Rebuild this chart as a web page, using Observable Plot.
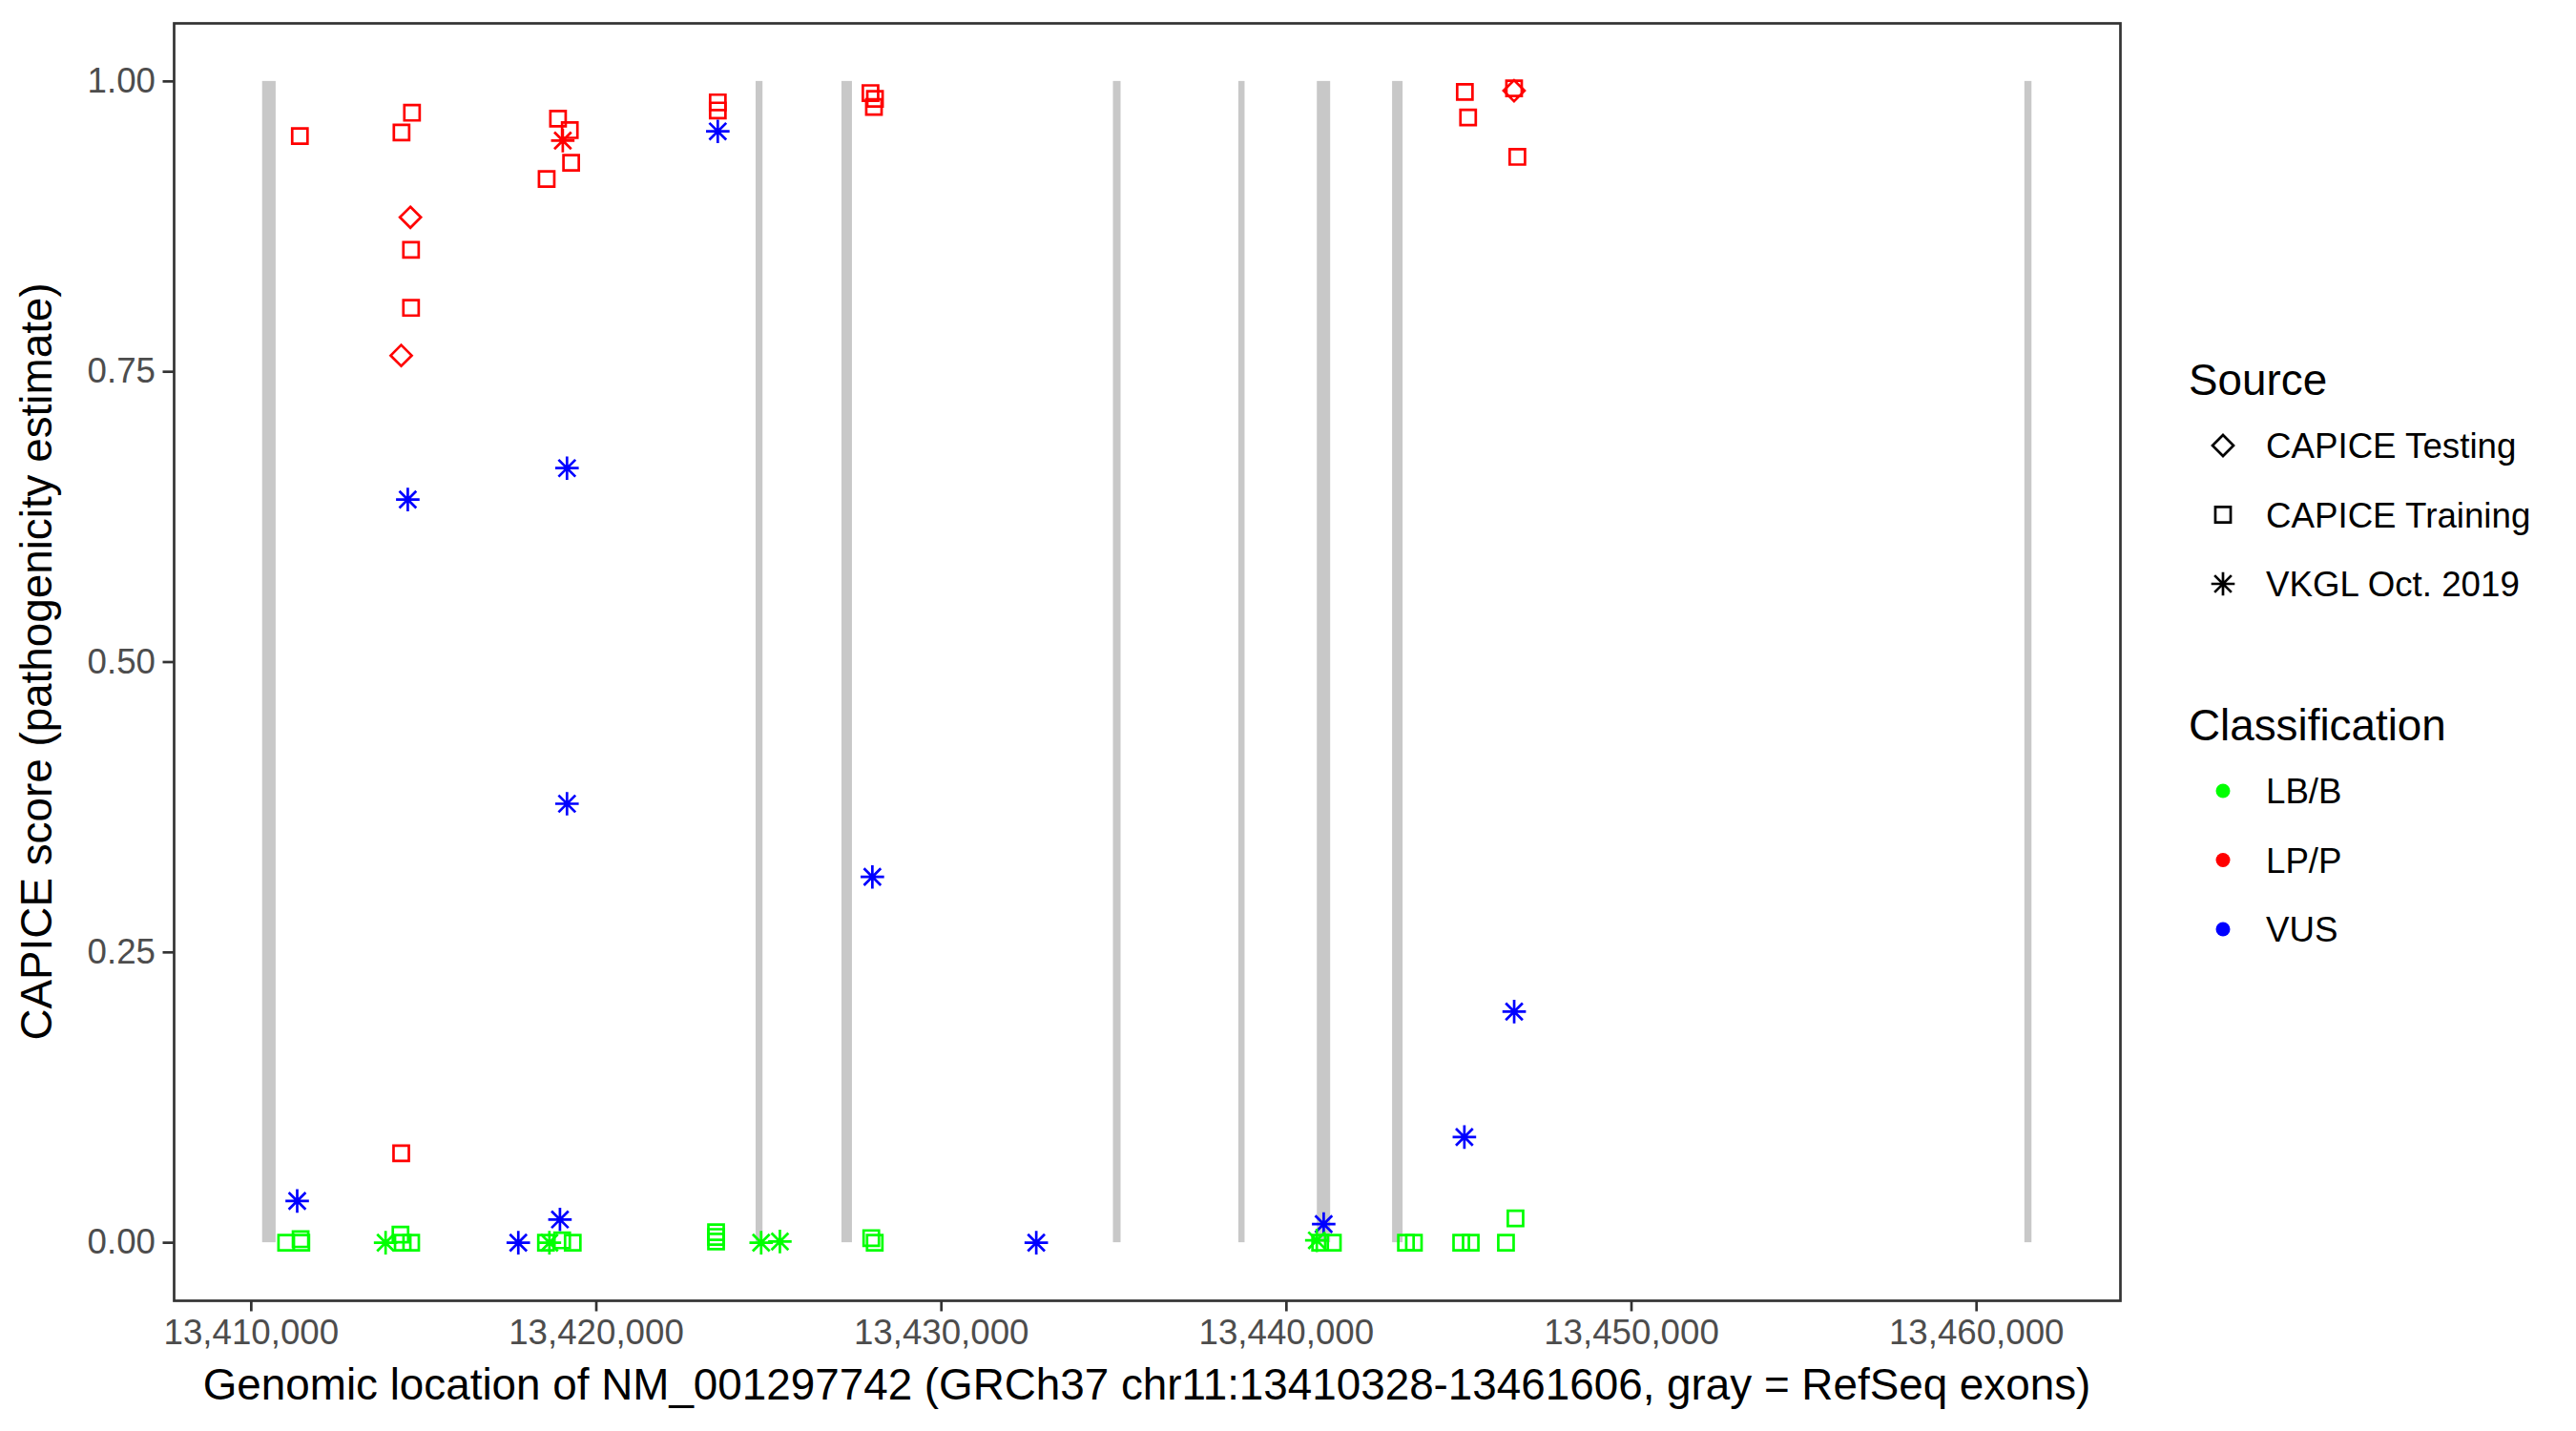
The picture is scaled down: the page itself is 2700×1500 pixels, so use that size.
<!DOCTYPE html>
<html><head><meta charset="utf-8">
<script src="https://cdn.jsdelivr.net/npm/d3@7"></script>
<script src="https://cdn.jsdelivr.net/npm/@observablehq/plot@0.6"></script>
<style>
html,body{margin:0;padding:0;background:#fff;}
#chart{position:relative;width:2700px;height:1500px;}
svg{font-family:"Liberation Sans", Arial, Helvetica, sans-serif;}
g[aria-label="x-axis tick label"], g[aria-label="y-axis tick label"]{fill:#4d4d4d;}
</style></head><body><div id="chart"></div><script>
// ---- data ----
const exonStart = [13410328, 13424630, 13427118, 13434986, 13438620, 13440895, 13443076, 13461400];
const exonEnd   = [13410720, 13424830, 13427422, 13435207, 13438800, 13441281, 13443380, 13461606];

const varPos = [
  // LP/P CAPICE Training
  13411408, 13414658, 13414354, 13414630, 13414630, 13414345, 13418890, 13419230, 13419270, 13418560,
  13423520, 13423520, 13427946, 13428075, 13428045, 13445170, 13445265, 13446597, 13446692,
  // LP/P CAPICE Testing
  13414611, 13414345, 13446597,
  // LP/P VKGL
  13419028,
  // VUS VKGL
  13411331, 13414536, 13417739, 13418946, 13419150, 13419150, 13423520, 13428000, 13432750, 13441080, 13445157, 13446600,
  // LB/B CAPICE Training
  13411011, 13411430, 13411450, 13414324, 13414388, 13414634, 13418540, 13419010, 13419316, 13423470,
  13423470, 13423470, 13427968, 13428068, 13440977, 13441345, 13443464, 13443694, 13445065, 13445341,
  13446362, 13446638,
  // LB/B VKGL
  13413893, 13418640, 13424777, 13425320, 13440880
];
const varScore = [
  0.953, 0.973, 0.956, 0.855, 0.805, 0.077, 0.968, 0.958, 0.930, 0.916,
  0.982, 0.975, 0.990, 0.985, 0.978, 0.991, 0.969, 0.994, 0.935,
  0.883, 0.764, 0.992,
  0.949,
  0.036, 0.640, 0.000, 0.020, 0.667, 0.378, 0.957, 0.315, 0.000, 0.016, 0.091, 0.199,
  0.000, 0.003, 0.000, 0.007, 0.000, 0.000, 0.000, 0.002, 0.000, 0.009,
  0.005, 0.001, 0.004, 0.000, 0.000, 0.000, 0.000, 0.000, 0.000, 0.000,
  0.000, 0.021,
  0.000, 0.000, 0.000, 0.001, 0.002
];
const varSource = [].concat(
  Array(19).fill("CAPICE Training"), Array(3).fill("CAPICE Testing"), Array(1).fill("VKGL Oct. 2019"),
  Array(12).fill("VKGL Oct. 2019"), Array(22).fill("CAPICE Training"), Array(5).fill("VKGL Oct. 2019")
);
const varClass = [].concat(
  Array(23).fill("LP/P"), Array(12).fill("VUS"), Array(27).fill("LB/B")
);

const sourceNames = ["CAPICE Testing", "CAPICE Training", "VKGL Oct. 2019"];
const classNames = ["LB/B", "LP/P", "VUS"];
const classColors = ["#00ff00", "#ff0000", "#0000ff"];
const xTicks = [13410000, 13420000, 13430000, 13440000, 13450000, 13460000];
const yTicks = [0, 0.25, 0.5, 0.75, 1];
const xTitle = "Genomic location of NM_001297742 (GRCh37 chr11:13410328-13461606, gray = RefSeq exons)";
const yTitle = "CAPICE score (pathogenicity estimate)";

// ---- symbols (ggplot shapes 5, 0, 8) ----
const diamondSym = {draw(c, size){const r=Math.sqrt(size/Math.PI), h=r*1.0;
  c.moveTo(0,-h); c.lineTo(h,0); c.lineTo(0,h); c.lineTo(-h,0); c.closePath();}};
const squareSym = {draw(c, size){const r=Math.sqrt(size/Math.PI), h=r*0.73;
  c.moveTo(-h,-h); c.lineTo(h,-h); c.lineTo(h,h); c.lineTo(-h,h); c.closePath();}};
const asteriskSym = {draw(c, size){const r=Math.sqrt(size/Math.PI), a=r*1.12, d=a*0.72;
  c.moveTo(-a,0); c.lineTo(a,0); c.moveTo(0,-a); c.lineTo(0,a);
  c.moveTo(-d,-d); c.lineTo(d,d); c.moveTo(-d,d); c.lineTo(d,-d);}};
const symList = [diamondSym, squareSym, asteriskSym];

// ---- tables ----
const exons = exonStart.map((s,i)=>({start:s, end:exonEnd[i]}));
const points = varPos.map((p,i)=>({pos:p, score:varScore[i], source:varSource[i], cls:varClass[i]}));

const lo = Math.min(d3.min(exonStart), d3.min(varPos));
const hi = Math.max(d3.max(exonEnd), d3.max(varPos));
const pad = (hi-lo)*0.05;

const W=2700, H=1500, mL=182, mR=478, mT=24, mB=137;
const LW = 2.7;

const plot = Plot.plot({
  width: W, height: H,
  marginLeft: mL, marginRight: mR, marginTop: mT, marginBottom: mB,
  style: {background:"#fff", fontFamily:'"Liberation Sans", Arial, sans-serif', overflow:"visible"},
  x: {domain:[lo-pad, hi+pad]},
  y: {domain:[-0.05, 1.05]},
  color: {domain: classNames, range: classColors},
  symbol: {domain: sourceNames, range: symList},
  marks: [
    Plot.rect(exons, {x1:"start", x2:"end", y1:()=>0, y2:()=>1, fill:"#c8c8c8"}),
    Plot.dot(points, {x:"pos", y:"score", symbol:"source", stroke:"cls", r:11, strokeWidth:LW, fill:"none"}),
    Plot.frame({stroke:"#333333", strokeWidth:LW}),
    Plot.axisX({ticks:xTicks, tickFormat:d3.format(","), tickSize:11.5, tickPadding:8, fontSize:36.7,
      stroke:"#333333", strokeWidth:LW, label:null}),
    Plot.axisY({ticks:yTicks, tickFormat:d3.format(".2f"), tickSize:11.5, tickPadding:8, fontSize:36.7,
      stroke:"#333333", strokeWidth:LW, label:null})
  ]
});
document.getElementById("chart").appendChild(plot);

const svg = d3.select(plot);
// axis titles
svg.append("text").attr("x", (mL + W - mR)/2).attr("y", 1467)
  .attr("text-anchor","middle").attr("font-size", 45.8).attr("fill","#000").text(xTitle);
svg.append("text").attr("transform", `translate(54,${(mT + H - mB)/2}) rotate(-90)`)
  .attr("text-anchor","middle").attr("font-size", 45.8).attr("fill","#000").text(yTitle);

// legends
const lg = svg.append("g").attr("text-anchor","start");
const keyX = 2330, labX = 2375, titleX = 2294;
lg.append("text").attr("x", titleX).attr("y", 414).attr("font-size", 45.8).attr("fill","#000").text("Source");
sourceNames.forEach((s,i)=>{
  const y = 467 + i*72.5;
  lg.append("path").attr("transform",`translate(${keyX},${y})`)
    .attr("d", d3.symbol().type(symList[i]).size(11*11*Math.PI)())
    .attr("fill","none").attr("stroke","#000").attr("stroke-width", LW);
  lg.append("text").attr("x", labX).attr("y", y + 13).attr("font-size", 36.7).attr("fill","#000").text(s);
});
lg.append("text").attr("x", titleX).attr("y", 776).attr("font-size", 45.8).attr("fill","#000").text("Classification");
classNames.forEach((s,i)=>{
  const y = 829 + i*72.5;
  lg.append("circle").attr("cx", keyX).attr("cy", y).attr("r", 7.5).attr("fill", classColors[i]);
  lg.append("text").attr("x", labX).attr("y", y + 13).attr("font-size", 36.7).attr("fill","#000").text(s);
});
</script></body></html>
